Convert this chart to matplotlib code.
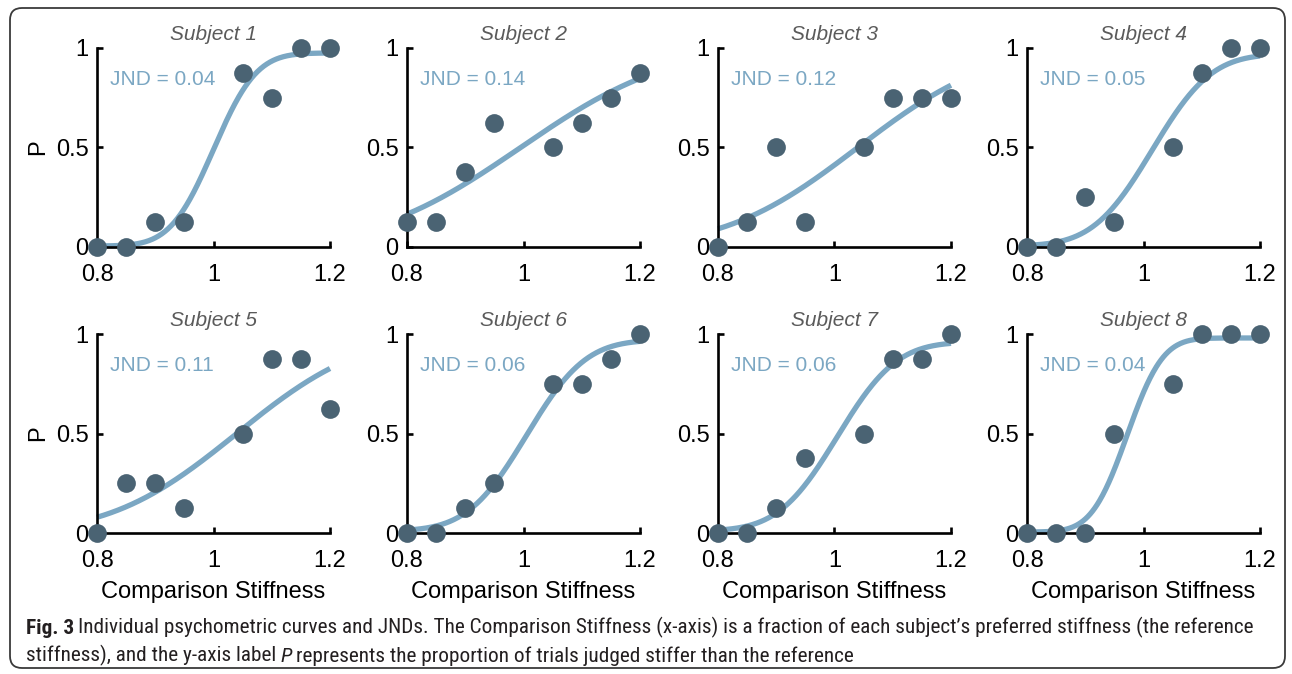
import math
import numpy as np
import matplotlib
matplotlib.use("Agg")
import matplotlib.pyplot as plt
from matplotlib.patches import FancyBboxPatch
from matplotlib import font_manager

# ---------------- data ----------------
comparison = [0.80, 0.85, 0.90, 0.95, 1.05, 1.10, 1.15, 1.20]
subjects = ["Subject 1", "Subject 2", "Subject 3", "Subject 4",
            "Subject 5", "Subject 6", "Subject 7", "Subject 8"]
p_s1 = [0, 0, 0.125, 0.125, 0.875, 0.75, 1, 1]
p_s2 = [0.125, 0.125, 0.375, 0.625, 0.5, 0.625, 0.75, 0.875]
p_s3 = [0, 0.125, 0.5, 0.125, 0.5, 0.75, 0.75, 0.75]
p_s4 = [0, 0, 0.25, 0.125, 0.5, 0.875, 1, 1]
p_s5 = [0, 0.25, 0.25, 0.125, 0.5, 0.875, 0.875, 0.625]
p_s6 = [0, 0, 0.125, 0.25, 0.75, 0.75, 0.875, 1]
p_s7 = [0, 0, 0.125, 0.375, 0.5, 0.875, 0.875, 1]
p_s8 = [0, 0, 0, 0.5, 0.75, 1, 1, 1]
proportions = [p_s1, p_s2, p_s3, p_s4, p_s5, p_s6, p_s7, p_s8]
jnd = [0.04, 0.14, 0.12, 0.05, 0.11, 0.06, 0.06, 0.04]
# fitted psychometric (cumulative Gaussian) parameters
pse = [1.000, 0.995, 1.040, 1.015, 1.040, 1.005, 1.005, 0.972]
sigma = [0.058, 0.200, 0.180, 0.080, 0.170, 0.080, 0.080, 0.048]
guess = [0.005, 0.0, 0.0, 0.005, 0.0, 0.01, 0.01, 0.005]
lapse = [0.025, 0.0, 0.0, 0.030, 0.0, 0.030, 0.040, 0.020]
xticks = [0.8, 1.0, 1.2]
xticklabels = ["0.8", "1", "1.2"]
yticks = [0, 0.5, 1]
yticklabels = ["0", "0.5", "1"]

caption_bold = "Fig. 3"
caption_l1 = ("Individual psychometric curves and JNDs. The Comparison Stiffness (x-axis) is a "
              "fraction of each subject\u2019s preferred stiffness (the reference")
caption_l2a = "stiffness), and the y-axis label"
caption_l2b = "P"
caption_l2c = "represents the proportion of trials judged stiffer than the reference"

# ---------------- style ----------------
W, H = 1292, 674
DPI = 100
CURVE = "#7BA7C3"
DOT = "#4A6373"
TITLE = "#5a5a5a"
plt.rcParams['font.family'] = ['Liberation Sans', 'DejaVu Sans']

installed = {f.name for f in font_manager.fontManager.ttflist}
cap_family = None
for cand in ['Liberation Sans Narrow', 'DejaVu Sans Condensed', 'Roboto Condensed',
             'Open Sans Condensed', 'Roboto', 'Lato']:
    if cand in installed:
        cap_family = [cand, 'DejaVu Sans']
        break
if cap_family is None:
    cap_family = ['DejaVu Sans']

fig = plt.figure(figsize=(W / DPI, H / DPI), dpi=DPI)

# background overlay for border and caption
bg = fig.add_axes([0, 0, 1, 1])
bg.set_xlim(0, W)
bg.set_ylim(H, 0)
bg.axis('off')
border = FancyBboxPatch((10, 8), 1275, 660, boxstyle="round,pad=0,rounding_size=12",
                        fc="none", ec="#3a3a3a", lw=1.3)
bg.add_patch(border)

col_left = [97, 407, 718, 1027]
ax_w = 233
row_top = [48, 334]
ax_h = 199
xs = np.linspace(0.8, 1.2, 300)
erf = np.vectorize(math.erf)

for i in range(8):
    r, c = divmod(i, 4)
    l = col_left[c] / W
    b = 1 - (row_top[r] + ax_h) / H
    ax = fig.add_axes([l, b, ax_w / W, ax_h / H])
    ax.patch.set_alpha(0)
    fit = guess[i] + (1 - guess[i] - lapse[i]) * 0.5 * (1 + erf((xs - pse[i]) / (sigma[i] * math.sqrt(2))))
    ax.plot(xs, fit, color=CURVE, lw=3.8, solid_capstyle='butt', zorder=2, clip_on=False)
    ax.plot(comparison, proportions[i], 'o', color=DOT, ms=13.5, mec='none', zorder=3, clip_on=False)
    ax.set_xlim(0.8, 1.2)
    ax.set_ylim(0, 1)
    for s in ['top', 'right']:
        ax.spines[s].set_visible(False)
    for s in ['left', 'bottom']:
        ax.spines[s].set_linewidth(1.9)
        ax.spines[s].set_color('black')
    ax.set_xticks(xticks)
    ax.set_xticklabels(xticklabels)
    ax.set_yticks(yticks)
    ax.set_yticklabels(yticklabels)
    ax.tick_params(direction='in', length=4, width=1.9, labelsize=17, colors='black')
    ax.tick_params(axis='x', pad=12)
    ax.tick_params(axis='y', pad=6)
    ax.set_title(subjects[i], fontsize=15, color=TITLE, style='italic', pad=6)
    ax.text(0.822, 0.84, f"JND = {jnd[i]:.2f}", color=CURVE, fontsize=15,
            ha='left', va='center')
    if c == 0:
        ax.set_ylabel("P", fontsize=17, labelpad=5)
    if r == 1:
        ax.set_xlabel("Comparison Stiffness", fontsize=17, labelpad=7)

cap_fs = 14
cap_color = "#231f20"
t0 = bg.text(26, 628, caption_bold, fontsize=cap_fs, fontweight='bold', family=cap_family,
             color=cap_color, ha='left', va='center')
t1 = bg.annotate(caption_l1, xy=(1, 0), xycoords=t0, xytext=(3, 0), textcoords='offset points',
                 fontsize=cap_fs, family=cap_family, color=cap_color, ha='left', va='bottom')
t2 = bg.text(26, 655, caption_l2a, fontsize=cap_fs, family=cap_family,
             color=cap_color, ha='left', va='center')
t3 = bg.annotate(caption_l2b, xy=(1, 0), xycoords=t2, xytext=(3, 0), textcoords='offset points',
                 fontsize=cap_fs, family=cap_family, style='italic', color=cap_color, ha='left', va='bottom')
t4 = bg.annotate(caption_l2c, xy=(1, 0), xycoords=t3, xytext=(3, 0), textcoords='offset points',
                 fontsize=cap_fs, family=cap_family, color=cap_color, ha='left', va='bottom')

# fit the first caption line to the reference width (26 px .. 1262 px)
fig.canvas.draw()
renderer = fig.canvas.get_renderer()
right = t1.get_window_extent(renderer).x1
scale = (1262 - 26) / (right - 26)
for t in (t0, t1, t2, t3, t4):
    t.set_fontsize(cap_fs * scale)

fig.savefig("out.png", dpi=DPI)
